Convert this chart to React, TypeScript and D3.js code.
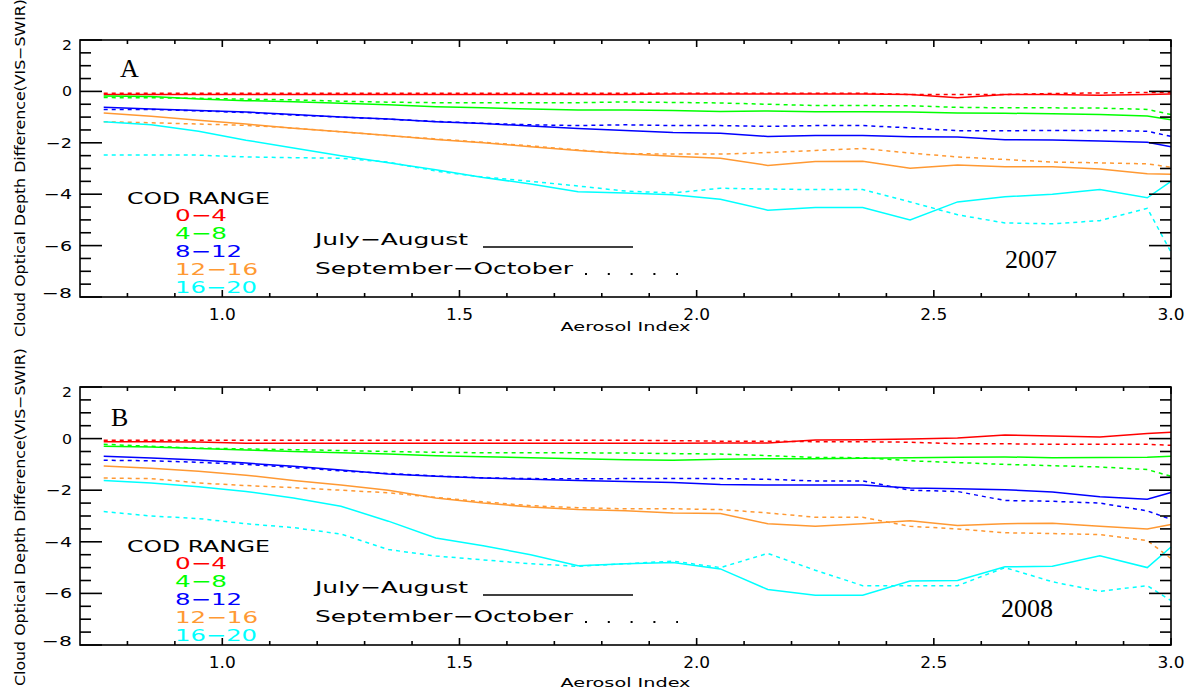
import React from 'react';
import * as d3 from 'd3';

// ---------- data ----------
const AI = [0.75, 0.85, 0.95, 1.05, 1.15, 1.25, 1.35, 1.45, 1.55, 1.65, 1.75, 1.85, 1.95, 2.05, 2.15, 2.25, 2.35, 2.45, 2.55, 2.65, 2.75, 2.85, 2.95, 3.0];

const codRanges = ['0\u22124', '4\u22128', '8\u221212', '12\u221216', '16\u221220'];
const rangeColors = ['#ff0000', '#00ff00', '#0000ff', '#ff9933', '#00ffff'];
const seasons = ['July\u2212August', 'September\u2212October'];
const xTickValues = [1.0, 1.5, 2.0, 2.5, 3.0];
const xTickLabels = ['1.0', '1.5', '2.0', '2.5', '3.0'];
const yTickValues = [2, 0, -2, -4, -6, -8];
const yTickLabels = ['2', '0', '\u22122', '\u22124', '\u22126', '\u22128'];

// 2007, July-August (solid)
const ja2007_0_4 = [-0.12, -0.12, -0.12, -0.12, -0.12, -0.12, -0.12, -0.12, -0.12, -0.12, -0.12, -0.12, -0.1, -0.1, -0.1, -0.1, -0.1, -0.12, -0.25, -0.12, -0.12, -0.15, -0.12, -0.1];
const ja2007_4_8 = [-0.18, -0.2, -0.3, -0.36, -0.4, -0.46, -0.52, -0.6, -0.64, -0.68, -0.72, -0.72, -0.74, -0.78, -0.76, -0.79, -0.79, -0.8, -0.84, -0.85, -0.87, -0.9, -0.96, -1.1];
const ja2007_8_12 = [-0.62, -0.68, -0.74, -0.8, -0.9, -1.0, -1.07, -1.18, -1.25, -1.35, -1.44, -1.52, -1.6, -1.63, -1.75, -1.72, -1.72, -1.76, -1.77, -1.88, -1.89, -1.93, -1.98, -2.15];
const ja2007_12_16 = [-0.84, -0.97, -1.12, -1.27, -1.43, -1.57, -1.72, -1.87, -2.0, -2.15, -2.3, -2.43, -2.52, -2.6, -2.88, -2.73, -2.72, -2.99, -2.86, -2.93, -2.93, -3.02, -3.2, -3.22];
const ja2007_16_20 = [-1.18, -1.3, -1.55, -1.9, -2.2, -2.5, -2.78, -3.05, -3.35, -3.6, -3.9, -3.95, -4.02, -4.2, -4.62, -4.52, -4.52, -5.0, -4.3, -4.1, -4.0, -3.82, -4.14, -3.5];

// 2007, September-October (dotted)
const so2007_0_4 = [-0.07, -0.07, -0.07, -0.07, -0.07, -0.07, -0.07, -0.07, -0.07, -0.07, -0.07, -0.07, -0.07, -0.07, -0.07, -0.07, -0.07, -0.12, -0.12, -0.12, -0.08, -0.06, -0.04, -0.05];
const so2007_4_8 = [-0.24, -0.25, -0.27, -0.3, -0.33, -0.38, -0.42, -0.44, -0.44, -0.44, -0.44, -0.41, -0.43, -0.45, -0.5, -0.55, -0.55, -0.56, -0.62, -0.64, -0.64, -0.65, -0.7, -0.9];
const so2007_8_12 = [-0.7, -0.7, -0.76, -0.82, -0.92, -1.0, -1.08, -1.17, -1.24, -1.3, -1.33, -1.3, -1.33, -1.33, -1.36, -1.33, -1.33, -1.42, -1.53, -1.53, -1.52, -1.52, -1.55, -1.75];
const so2007_12_16 = [-1.18, -1.22, -1.27, -1.32, -1.43, -1.57, -1.72, -1.85, -1.98, -2.12, -2.28, -2.42, -2.44, -2.44, -2.38, -2.3, -2.22, -2.4, -2.55, -2.65, -2.75, -2.78, -2.82, -2.95];
const so2007_16_20 = [-2.47, -2.47, -2.48, -2.55, -2.58, -2.6, -2.75, -3.1, -3.33, -3.5, -3.68, -3.88, -3.95, -3.77, -3.8, -3.82, -3.82, -4.3, -4.8, -5.12, -5.15, -5.03, -4.55, -6.25];

// 2008, July-August (solid)
const ja2008_0_4 = [-0.12, -0.12, -0.13, -0.18, -0.18, -0.18, -0.18, -0.18, -0.18, -0.18, -0.18, -0.18, -0.18, -0.17, -0.17, -0.05, -0.04, -0.02, 0.02, 0.14, 0.1, 0.06, 0.2, 0.25];
const ja2008_4_8 = [-0.3, -0.33, -0.38, -0.44, -0.5, -0.55, -0.6, -0.66, -0.7, -0.74, -0.78, -0.82, -0.84, -0.8, -0.78, -0.78, -0.76, -0.74, -0.72, -0.71, -0.74, -0.73, -0.72, -0.68];
const ja2008_8_12 = [-0.68, -0.75, -0.83, -0.95, -1.07, -1.22, -1.37, -1.46, -1.53, -1.58, -1.62, -1.66, -1.7, -1.78, -1.8, -1.8, -1.8, -1.91, -1.94, -1.98, -2.07, -2.25, -2.35, -2.09];
const ja2008_12_16 = [-1.06, -1.15, -1.27, -1.42, -1.62, -1.8, -2.0, -2.3, -2.5, -2.65, -2.75, -2.8, -2.88, -2.9, -3.3, -3.4, -3.3, -3.18, -3.37, -3.3, -3.28, -3.4, -3.5, -3.33];
const ja2008_16_20 = [-1.62, -1.72, -1.87, -2.05, -2.3, -2.62, -3.2, -3.85, -4.15, -4.5, -4.93, -4.85, -4.8, -5.05, -5.85, -6.07, -6.07, -5.52, -5.5, -4.97, -4.95, -4.54, -5.0, -4.2];

// 2008, September-October (dotted)
const so2008_0_4 = [-0.06, -0.06, -0.06, -0.06, -0.06, -0.06, -0.06, -0.06, -0.06, -0.06, -0.06, -0.06, -0.08, -0.1, -0.1, -0.12, -0.12, -0.14, -0.2, -0.2, -0.22, -0.22, -0.22, -0.26];
const so2008_4_8 = [-0.22, -0.3, -0.37, -0.4, -0.43, -0.46, -0.5, -0.53, -0.55, -0.55, -0.55, -0.56, -0.58, -0.6, -0.66, -0.73, -0.74, -0.86, -0.93, -1.0, -1.05, -1.1, -1.2, -1.46];
const so2008_8_12 = [-0.84, -0.86, -0.92, -1.0, -1.12, -1.25, -1.35, -1.45, -1.52, -1.55, -1.56, -1.55, -1.55, -1.55, -1.58, -1.64, -1.64, -2.0, -2.05, -2.4, -2.43, -2.5, -2.8, -3.13];
const so2008_12_16 = [-1.53, -1.55, -1.72, -1.82, -1.9, -2.0, -2.1, -2.28, -2.45, -2.6, -2.68, -2.72, -2.72, -2.75, -2.88, -3.05, -3.05, -3.4, -3.5, -3.65, -3.68, -3.72, -3.95, -4.65];
const so2008_16_20 = [-2.83, -3.0, -3.1, -3.3, -3.45, -3.7, -4.3, -4.55, -4.7, -4.85, -4.95, -4.85, -4.75, -5.0, -4.45, -5.1, -5.7, -5.7, -5.7, -5.0, -5.55, -5.92, -5.7, -6.28];

// ---------- layout ----------
const W = 1196;
const H = 690;
const X0 = 80;
const X1 = 1171;
const FONT = '"DejaVu Sans", "Liberation Sans", sans-serif';
const SERIF = '"Liberation Serif", "DejaVu Serif", serif';

const panels = [
  {
    letter: 'A', year: '2007', yTop: 40, yBot: 297, dy: 0,
    letterX: 120, letterBase: 77, yearX: 1005, yearBase: 268,
    xLabBase: 320, titleBase: 331, yTitleCY: 168,
    ja: [ja2007_0_4, ja2007_4_8, ja2007_8_12, ja2007_12_16, ja2007_16_20],
    so: [so2007_0_4, so2007_4_8, so2007_8_12, so2007_12_16, so2007_16_20],
  },
  {
    letter: 'B', year: '2008', yTop: 387, yBot: 645, dy: 348,
    letterX: 111, letterBase: 426, yearX: 1001, yearBase: 617,
    xLabBase: 668, titleBase: 687, yTitleCY: 517,
    ja: [ja2008_0_4, ja2008_4_8, ja2008_8_12, ja2008_12_16, ja2008_16_20],
    so: [so2008_0_4, so2008_4_8, so2008_8_12, so2008_12_16, so2008_16_20],
  },
];

const legendWidths = [52, 52, 67, 83, 82];
const yLabelWidths = [10, 10, 26, 28, 28, 30];

function Panel({ p }: { p: any }) {
  const x = d3.scaleLinear().domain([0.7, 3.0]).range([X0, X1]);
  const y = d3.scaleLinear().domain([-8, 2]).range([p.yBot, p.yTop]);
  const line = d3.line<number>().x((_, i) => x(AI[i])).y((d) => y(d));

  const xMinor = d3.range(8, 30).map((v) => v / 10).filter((v) => !xTickValues.some((t) => Math.abs(t - v) < 1e-6));
  const yMinor = d3.range(-16, 5).map((v) => v / 2).filter((v) => !yTickValues.includes(v));

  const axisStroke = '#000';
  const sw = 1.6;

  return (
    <g>
      {p.so.map((vals: number[], i: number) => (
        <path key={'so' + i} d={line(vals) || ''} fill="none" stroke={rangeColors[i]} strokeWidth={1.5} strokeDasharray="4,4" />
      ))}
      {p.ja.map((vals: number[], i: number) => (
        <path key={'ja' + i} d={line(vals) || ''} fill="none" stroke={rangeColors[i]} strokeWidth={1.5} />
      ))}

      <rect x={X0} y={p.yTop} width={X1 - X0} height={p.yBot - p.yTop} fill="none" stroke={axisStroke} strokeWidth={sw} />

      {xTickValues.map((v) => (
        <g key={'xt' + v}>
          <line x1={x(v)} x2={x(v)} y1={p.yBot} y2={p.yBot - 7} stroke={axisStroke} strokeWidth={sw} />
          <line x1={x(v)} x2={x(v)} y1={p.yTop} y2={p.yTop + 7} stroke={axisStroke} strokeWidth={sw} />
        </g>
      ))}
      {xMinor.map((v) => (
        <g key={'xm' + v}>
          <line x1={x(v)} x2={x(v)} y1={p.yBot} y2={p.yBot - 4} stroke={axisStroke} strokeWidth={sw} />
          <line x1={x(v)} x2={x(v)} y1={p.yTop} y2={p.yTop + 4} stroke={axisStroke} strokeWidth={sw} />
        </g>
      ))}
      {xTickValues.map((v, i) => (
        <text key={'xl' + v} x={x(v)} y={p.xLabBase} textAnchor="middle" fontFamily={FONT} fontSize={15} textLength={27} lengthAdjust="spacingAndGlyphs">
          {xTickLabels[i]}
        </text>
      ))}

      {yTickValues.map((v) => (
        <g key={'yt' + v}>
          <line x1={X0} x2={X0 + 22} y1={y(v)} y2={y(v)} stroke={axisStroke} strokeWidth={sw} />
          <line x1={X1} x2={X1 - 22} y1={y(v)} y2={y(v)} stroke={axisStroke} strokeWidth={sw} />
        </g>
      ))}
      {yMinor.map((v) => (
        <g key={'ym' + v}>
          <line x1={X0} x2={X0 + 11} y1={y(v)} y2={y(v)} stroke={axisStroke} strokeWidth={sw} />
          <line x1={X1} x2={X1 - 11} y1={y(v)} y2={y(v)} stroke={axisStroke} strokeWidth={sw} />
        </g>
      ))}
      {yTickValues.map((v, i) => {
        let cy = y(v);
        if (i === 0) cy += 5;
        if (i === yTickValues.length - 1) cy -= 4;
        return (
          <text key={'yl' + v} x={72} y={cy + 5} textAnchor="end" fontFamily={FONT} fontSize={14} textLength={yLabelWidths[i]} lengthAdjust="spacingAndGlyphs">
            {yTickLabels[i]}
          </text>
        );
      })}

      <text x={(X0 + X1) / 2} y={p.titleBase} textAnchor="middle" fontFamily={FONT} fontSize={13} textLength={130} lengthAdjust="spacingAndGlyphs">
        Aerosol Index
      </text>
      <text transform={`translate(25,${p.yTitleCY}) rotate(-90)`} textAnchor="middle" fontFamily={FONT} fontSize={14} textLength={338} lengthAdjust="spacingAndGlyphs">
        Cloud Optical Depth Difference(VIS{'\u2212'}SWIR)
      </text>

      <text x={p.letterX} y={p.letterBase} fontFamily={SERIF} fontSize={26}>{p.letter}</text>
      <text x={p.yearX} y={p.yearBase} fontFamily={SERIF} fontSize={26}>{p.year}</text>

      <text x={127} y={204 + p.dy} fontFamily={FONT} fontSize={15} textLength={143} lengthAdjust="spacingAndGlyphs">COD RANGE</text>
      {codRanges.map((r, i) => (
        <text key={'lg' + i} x={175} y={221 + p.dy + i * 18} fill={rangeColors[i]} fontFamily={FONT} fontSize={16} textLength={legendWidths[i]} lengthAdjust="spacingAndGlyphs">
          {r}
        </text>
      ))}
      <text x={315} y={245 + p.dy} fontFamily={FONT} fontSize={16} textLength={153} lengthAdjust="spacingAndGlyphs">{seasons[0]}</text>
      <line x1={483} x2={633} y1={247 + p.dy} y2={247 + p.dy} stroke="#000" strokeWidth={1.5} />
      <text x={315} y={274 + p.dy} fontFamily={FONT} fontSize={16} textLength={258} lengthAdjust="spacingAndGlyphs">{seasons[1]}</text>
      <line x1={585} x2={678} y1={274 + p.dy} y2={274 + p.dy} stroke="#000" strokeWidth={2} strokeDasharray="2,20.8" />
    </g>
  );
}

export default function App() {
  return (
    <svg width={W} height={H} style={{ position: 'absolute', left: 0, top: 0, background: '#fff' }}>
      <rect x={0} y={0} width={W} height={H} fill="#fff" />
      {panels.map((p) => (
        <Panel key={p.letter} p={p} />
      ))}
    </svg>
  );
}
